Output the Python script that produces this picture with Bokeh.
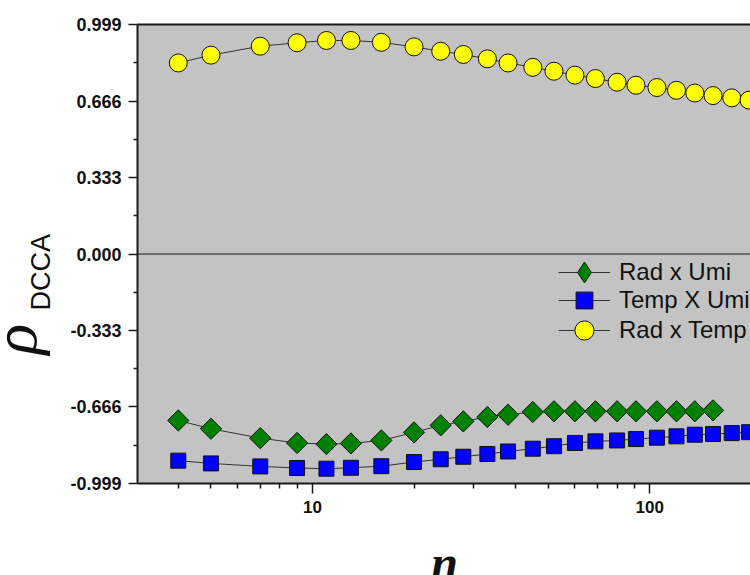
import math
from bokeh.plotting import figure
from bokeh.layouts import row
from bokeh.models import (Range1d, FixedTicker, LinearAxis, Span, Label, Legend,
                          LegendItem, PrintfTickFormatter, NumeralTickFormatter)
from bokeh.embed import file_html
from bokeh.resources import INLINE

# ---- data ----
n_scale = [4, 5, 7, 9, 11, 13, 16, 20, 24, 28, 33, 38, 45, 52, 60, 69, 80, 91,
           105, 120, 136, 154, 175, 197]
rad_x_umi = [-0.725, -0.761, -0.802, -0.823, -0.828, -0.825, -0.812, -0.777,
             -0.746, -0.729, -0.710, -0.700, -0.688, -0.685, -0.685, -0.685,
             -0.685, -0.685, -0.685, -0.685, -0.685, -0.681]
temp_x_umi = [-0.900, -0.912, -0.925, -0.932, -0.935, -0.931, -0.924, -0.906,
              -0.894, -0.883, -0.871, -0.860, -0.848, -0.837, -0.823, -0.816,
              -0.812, -0.806, -0.800, -0.794, -0.787, -0.784, -0.780, -0.776]
rad_x_temp = [0.832, 0.866, 0.905, 0.920, 0.930, 0.930, 0.922, 0.902, 0.883,
              0.869, 0.850, 0.832, 0.813, 0.796, 0.779, 0.764, 0.748, 0.735,
              0.725, 0.713, 0.701, 0.690, 0.680, 0.670]
series_labels = ["Rad x Umi", "Temp X Umi", "Rad x Temp"]
y_ticks = [-0.999, -0.666, -0.333, 0.0, 0.333, 0.666, 0.999]
y_minor = [-0.8325, -0.4995, -0.1665, 0.1665, 0.4995, 0.8325]
x_ticks = [10, 100, 1000]
x_minor = [3, 4, 5, 6, 7, 8, 9, 20, 30, 40, 50, 60, 70, 80, 90,
           200, 300, 400, 500, 600, 700, 800, 900]

AX = "#1a1a1a"
LEFT_W = 66

# narrow strip on the left that carries the y-axis title
title_strip = figure(width=LEFT_W, height=575, output_backend="svg",
                     toolbar_location=None, x_axis_location=None,
                     y_axis_location=None, min_border_left=0, min_border_right=0,
                     min_border_top=0, min_border_bottom=0)
title_strip.outline_line_color = None
title_strip.background_fill_color = "white"
title_strip.border_fill_color = "white"
title_strip.grid.visible = False
title_strip.add_layout(Label(x=14, y=354, x_units="canvas", y_units="canvas",
                             text="ρ", angle=math.pi / 2,
                             text_font="Liberation Serif", text_font_style="italic",
                             text_font_size="64px", text_align="left",
                             text_baseline="alphabetic", text_color="#111111"))
title_strip.add_layout(Label(x=40, y=310, x_units="canvas", y_units="canvas",
                             text="DCCA", angle=math.pi / 2,
                             text_font="Liberation Sans", text_font_size="27px",
                             text_align="left", text_baseline="alphabetic",
                             text_color="#111111"))

p = figure(width=750 - LEFT_W, height=575, x_axis_type="log",
           x_range=Range1d(3.028, 198.9), y_range=Range1d(-0.9995, 0.9995),
           output_backend="svg", toolbar_location=None,
           min_border_left=137 - LEFT_W, min_border_right=0, min_border_top=24,
           min_border_bottom=92)
p.background_fill_color = "#c3c3c3"
p.border_fill_color = "white"
p.outline_line_color = None
p.grid.visible = False

xa = p.xaxis[0]
xa.ticker = FixedTicker(ticks=x_ticks, minor_ticks=x_minor)
xa.formatter = NumeralTickFormatter(format="0")
xa.major_tick_out = 10
xa.minor_tick_out = 5
xa.major_label_standoff = 7
xa.major_label_text_font_size = "17px"

ya = p.yaxis[0]
ya.ticker = FixedTicker(ticks=y_ticks, minor_ticks=y_minor)
ya.formatter = PrintfTickFormatter(format="%.3f")
ya.major_tick_out = 9
ya.minor_tick_out = 4
ya.major_label_standoff = 7
ya.major_label_text_font_size = "18px"

for ax in (xa, ya):
    ax.axis_line_width = 2
    ax.axis_line_color = AX
    ax.major_tick_in = 0
    ax.minor_tick_in = 0
    ax.major_tick_line_color = AX
    ax.major_tick_line_width = 1.5
    ax.minor_tick_line_color = AX
    ax.minor_tick_line_width = 1.5
    ax.major_label_text_font = "Liberation Sans"
    ax.major_label_text_font_style = "bold"
    ax.major_label_text_color = "#111111"

top = LinearAxis(ticker=FixedTicker(ticks=[]), axis_line_width=2, axis_line_color=AX,
                 major_tick_line_color=None, minor_tick_line_color=None,
                 major_label_text_font_size="0px")
p.add_layout(top, "above")

p.add_layout(Span(location=0, dimension="width", line_color=AX, line_width=1.2))

# series
l1 = p.line(n_scale[:len(rad_x_umi)], rad_x_umi, line_color="#333333", line_width=1)
s1 = p.scatter(n_scale[:len(rad_x_umi)], rad_x_umi, marker="square", size=15,
               angle=math.pi / 4, fill_color="#008000", line_color="#111111",
               line_width=1)
l2 = p.line(n_scale, temp_x_umi, line_color="#333333", line_width=1)
s2 = p.scatter(n_scale, temp_x_umi, marker="square", size=15,
               fill_color="#0000ff", line_color="#111111", line_width=1)
l3 = p.line(n_scale, rad_x_temp, line_color="#333333", line_width=1)
s3 = p.scatter(n_scale, rad_x_temp, marker="circle", size=18,
               fill_color="#ffff00", line_color="#111111", line_width=1)

# legend-only diamond key (legend swatches ignore marker angle); hidden in plot
s1_key = p.scatter(n_scale[:len(rad_x_umi)], rad_x_umi, marker="diamond", size=15,
                   fill_color="#008000", line_color="#111111", line_width=1,
                   visible=False)

legend_rows = [(series_labels[0], [l1, s1_key], 52, 185),
               (series_labels[1], [l2, s2], 42, 162),
               (series_labels[2], [l3, s3], 48, 129)]
for label, rends, gh, ybot in legend_rows:
    lg = Legend(items=[LegendItem(label=label, renderers=rends)],
                location=(421, ybot), padding=0, margin=0, spacing=0,
                glyph_width=52, glyph_height=gh, label_standoff=9,
                label_text_font="Liberation Sans", label_text_font_size="24px",
                label_text_color="#111111", background_fill_alpha=0,
                border_line_color=None, inactive_fill_alpha=0,
                click_policy="none")
    p.add_layout(lg)

# x-axis title, in the bottom panel so it is not clipped to the frame
p.add_layout(Label(x=444 - LEFT_W, y=562, x_units="canvas", y_units="canvas",
                   text="n", text_font="Liberation Serif",
                   text_font_style="bold italic", text_font_size="48px",
                   text_align="center", text_baseline="alphabetic",
                   text_color="#111111"), "below")

layout = row(title_strip, p, spacing=0)
open("out.html", "w").write(file_html(layout, INLINE))
